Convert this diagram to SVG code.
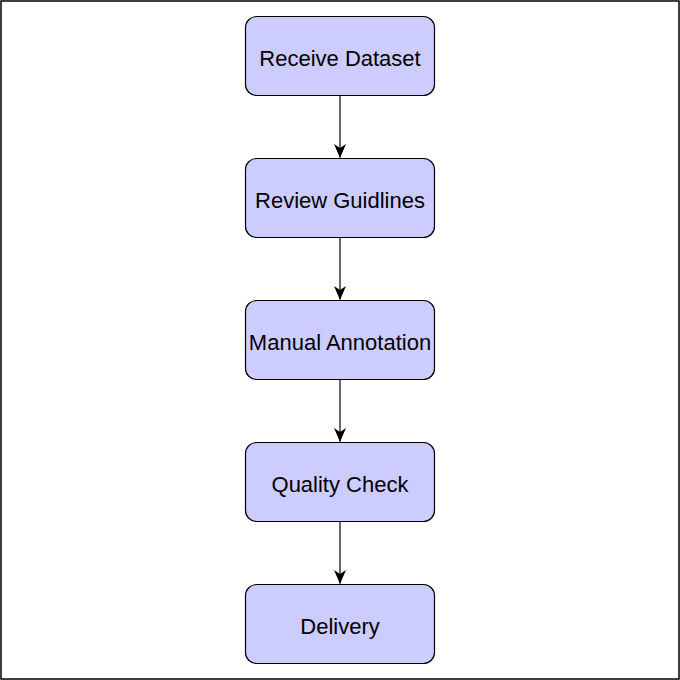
<svg xmlns="http://www.w3.org/2000/svg" width="680" height="680" viewBox="0 0 680 680">
<style>
.box{fill:#ccccff;stroke:#000;stroke-width:1.2}
.lbl{font-family:"Liberation Sans",Arial,sans-serif;font-size:22px;fill:#000;text-anchor:middle;dominant-baseline:central}
.edge{stroke:#000;stroke-width:1.2;fill:none;marker-end:url(#arr)}
</style>
<defs>
<marker id="arr" viewBox="0 0 14 12" refX="13.5" refY="6" markerWidth="14" markerHeight="12" markerUnits="userSpaceOnUse" orient="auto">
<path d="M0,0 L14,6 L0,12 L4,6 Z" fill="#000"/>
</marker>
</defs>
<rect x="0" y="0" width="680" height="680" fill="#fff"/>
<rect x="1" y="1" width="678" height="678" fill="none" stroke="#000" stroke-width="1.5"/>
<g id="edges">
<line class="edge" x1="340" y1="95.5" x2="340" y2="157.5"/>
<line class="edge" x1="340" y1="237.5" x2="340" y2="299.5"/>
<line class="edge" x1="340" y1="379.5" x2="340" y2="441.5"/>
<line class="edge" x1="340" y1="521.5" x2="340" y2="583.5"/>
</g>
<g id="n1"><rect class="box" x="245.5" y="16.5" width="189" height="79" rx="11"/><text class="lbl" x="340" y="58">Receive Dataset</text></g>
<g id="n2"><rect class="box" x="245.5" y="158.5" width="189" height="79" rx="11"/><text class="lbl" x="340" y="200">Review Guidlines</text></g>
<g id="n3"><rect class="box" x="245.5" y="300.5" width="189" height="79" rx="11"/><text class="lbl" x="340" y="342">Manual Annotation</text></g>
<g id="n4"><rect class="box" x="245.5" y="442.5" width="189" height="79" rx="11"/><text class="lbl" x="340" y="484">Quality Check</text></g>
<g id="n5"><rect class="box" x="245.5" y="584.5" width="189" height="79" rx="11"/><text class="lbl" x="340" y="626">Delivery</text></g>
</svg>
